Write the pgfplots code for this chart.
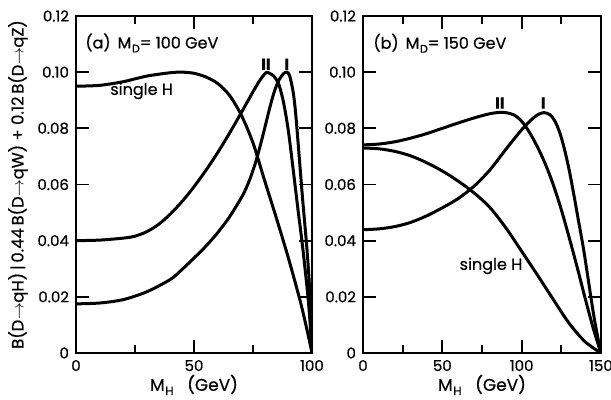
\documentclass[border=0pt]{standalone}
\usepackage{fontspec}
\setmainfont{Poppins}[FakeBold=0.6]
\usepackage{pgfplots}
\pgfplotsset{compat=1.18}

\pgfplotsset{
  curve/.style={black, line width=1.5pt, smooth, tension=0.5, mark=none},
  panel/.style={
    scale only axis, height=168.5pt,
    ymin=0, ymax=0.12,
    ytick={0,0.02,0.04,0.06,0.08,0.10,0.12},
    yticklabels={0,0.02,0.04,0.06,0.08,0.10,0.12},
    xtick pos=both, ytick pos=both, tick align=inside,
    axis line style={line width=1pt},
    major tick length=6.5pt, minor tick length=4pt,
    every tick/.style={black, line width=0.9pt},
    tick label style={font=\fontsize{7.5}{8}\selectfont},
    /pgf/number format/assume math mode=true,
    xlabel={M\kern0.3pt\raisebox{-0.45ex}{\fontsize{6}{6}\selectfont H}\ \ \ (GeV)},
    xlabel style={font=\fontsize{8.5}{9}\selectfont, at={(axis description cs:0.5,0)}, anchor=center, yshift=-16pt},
  }
}
\newcommand{\Md}{M\kern0.3pt\raisebox{-0.45ex}{\fontsize{5.5}{6}\selectfont D}}
\tikzset{lbl/.style={anchor=west, inner sep=0pt, font=\fontsize{8}{9}\selectfont}}

\begin{document}
\begin{tikzpicture}
% (a) M_D = 100 GeV
\begin{axis}[panel, width=118pt,
  xmin=0, xmax=100,
  xtick={0,50,100}, xticklabels={0,50,100},
  minor xtick={25,75},
  ylabel={B(D$\rightarrow$qH)\,|\,0.44\,B(D$\rightarrow$qW) + 0.12\,B(D$\rightarrow$qZ)},
  ylabel style={font=\fontsize{8.2}{9}\selectfont, at={(axis description cs:-0.246,0.5)}, anchor=center},
]
% single H
\addplot[curve] coordinates {
  (0,0.0950)(10,0.0953)(20,0.0966)(30,0.0986)(40,0.0998)(45,0.1000)(50,0.0996)
  (55,0.0983)(60,0.0960)(65,0.0918)(70,0.0848)(75,0.0748)(80,0.0612)(85,0.0478)
  (90,0.0338)(95,0.0185)(98,0.0078)(100,0)
};
% II
\addplot[curve] coordinates {
  (0,0.0400)(10,0.0402)(20,0.0409)(25,0.0416)(30,0.0432)(35,0.0458)(40,0.0495)
  (45,0.0540)(50,0.0592)(55,0.0650)(60,0.0713)(65,0.0782)(70,0.0855)(75,0.0930)
  (78,0.0972)(80.5,0.0998)(82,0.0996)(84,0.0984)(86,0.0955)(88,0.0890)(90,0.0790)
  (92,0.0655)(94,0.0515)(96,0.0380)(98,0.0225)(99,0.0130)(100,0)
};
% I
\addplot[curve] coordinates {
  (0,0.0175)(10,0.0178)(20,0.0190)(30,0.0218)(40,0.0262)(45,0.0298)(50,0.0338)
  (55,0.0380)(60,0.0428)(65,0.0484)(70,0.0552)(72,0.0585)(74,0.0626)(76,0.0676)
  (78,0.0736)(80,0.0802)(82,0.0870)(84,0.0930)(86,0.0972)(88,0.0995)(89.3,0.1000)
  (90.5,0.0988)(92,0.0930)(93,0.0860)(94,0.0760)(95,0.0655)(96,0.0550)(97,0.0455)
  (98,0.0355)(99,0.0225)(100,0)
};
\node[lbl] at (axis cs:3.8,0.1104) {(a)\ \,\Md= 100 GeV};
\node[lbl] at (axis cs:14.4,0.0933) {single H};
\node[font=\fontsize{8}{9}\selectfont] at (axis cs:80.5,0.1028) {$\mathbf{II}$};
\node[font=\fontsize{8}{9}\selectfont] at (axis cs:89.3,0.1028) {$\mathbf{I}$};
\end{axis}

% (b) M_D = 150 GeV
\begin{axis}[panel, width=119pt, at={(143.5pt,0)},
  xmin=0, xmax=150,
  xtick={0,50,100,150}, xticklabels={0,50,100,150},
  minor xtick={25,75,125},
]
% single H
\addplot[curve] coordinates {
  (0,0.0730)(10,0.0727)(20,0.0718)(30,0.0702)(40,0.0678)(50,0.0648)(60,0.0612)
  (70,0.0570)(80,0.0518)(90,0.0446)(100,0.0362)(110,0.0277)(120,0.0190)(130,0.0105)
  (140,0.0040)(150,0)
};
% II
\addplot[curve] coordinates {
  (0,0.0741)(10,0.0744)(20,0.0752)(30,0.0765)(40,0.0781)(50,0.0800)(60,0.0819)
  (70,0.0837)(80,0.0852)(88,0.0857)(95,0.0848)(100,0.0825)(105,0.0785)(110,0.0733)
  (115,0.0672)(120,0.0598)(125,0.0510)(130,0.0410)(135,0.0305)(140,0.0195)
  (145,0.0090)(148,0.0035)(150,0)
};
% I
\addplot[curve] coordinates {
  (0,0.0439)(10,0.0442)(20,0.0450)(30,0.0465)(40,0.0488)(50,0.0517)(60,0.0550)
  (70,0.0594)(80,0.0652)(90,0.0725)(100,0.0795)(106,0.0830)(110,0.0848)(114,0.0856)
  (118,0.0848)(121,0.0825)(124,0.0785)(127,0.0725)(130,0.0650)(133,0.0560)
  (136,0.0465)(139,0.0370)(142,0.0260)(144,0.0185)(146,0.0115)(148,0.0055)(150,0)
};
\node[lbl] at (axis cs:6.3,0.1103) {(b)\ \,\Md= 150 GeV};
\node[lbl] at (axis cs:60.7,0.0310) {single H};
\node[font=\fontsize{8}{9}\selectfont] at (axis cs:86.3,0.0890) {$\mathbf{II}$};
\node[font=\fontsize{8}{9}\selectfont] at (axis cs:113.6,0.0890) {$\mathbf{I}$};
\end{axis}

\pgfresetboundingbox
\path[use as bounding box] (-38pt,-23.5pt) rectangle (267.5pt,176.5pt);
\end{tikzpicture}
\end{document}
